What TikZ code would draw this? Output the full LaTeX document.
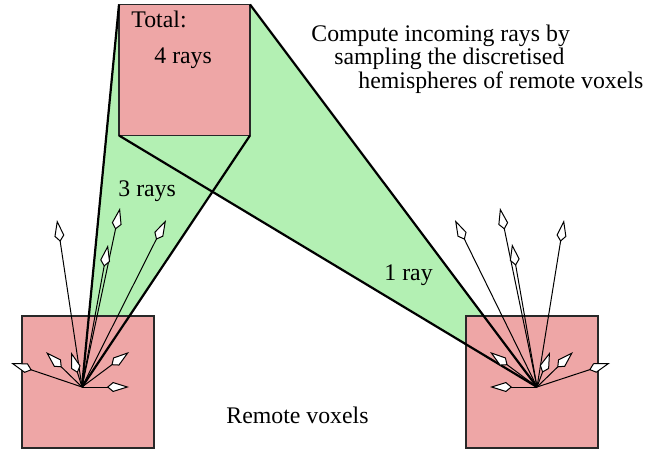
\documentclass[tikz,border=0pt]{standalone}
\usepackage{fontspec}
\setmainfont{Liberation Serif}
\usetikzlibrary{arrows.meta}
\definecolor{voxpink}{RGB}{238,166,166}
\definecolor{conegreen}{RGB}{179,240,179}
\definecolor{boxedge}{RGB}{40,40,40}
\begin{document}
\begin{tikzpicture}[x={(0.5pt,0)}, y={(0,-0.5pt)},
  voxel/.style={draw=boxedge, line width=0.7pt, fill=voxpink, inner sep=0pt, outer sep=0pt},
  coneline/.style={draw=black, line width=1.1pt},
  rayarrow/.style={draw=black, line width=0.5pt,
    -{Kite[length=11pt, width=5pt, inset=3pt, fill=white]}},
  lbl/.style={anchor=base west, inner sep=0pt, font=\fontsize{11.9}{14}\selectfont}]
\useasboundingbox (0,0) rectangle (646,450);
% sources
\coordinate (srcL) at (82,387);
\coordinate (srcR) at (537,387);
% top box (for anchors)
\path (184.5,70) node[minimum width=65.5pt, minimum height=65.5pt, inner sep=0pt, outer sep=0pt] (top) {};
% green cones
\fill[conegreen] (top.north west) -- (srcL) -- (top.south east) -- cycle;
\fill[conegreen] (top.north east) -- (srcR) -- (top.south west) -- cycle;
% boxes
\node[voxel, minimum width=65.5pt, minimum height=65.5pt] (topbox) at (top) {};
\node[voxel, minimum width=66pt, minimum height=66pt] (voxL) at (88,382) {};
\node[voxel, minimum width=66pt, minimum height=66pt] (voxR) at (532,382) {};
% cone edges
\draw[coneline] (top.north west) -- (srcL);
\draw[coneline] (top.south east) -- (srcL);
\draw[coneline] (top.north east) -- (srcR);
\draw[coneline] (top.south west) -- (srcR);
% rays of left voxel
\foreach \n/\dx/\dy in {a/-25/-167, b/38/-179, c/84/-167, d/26/-142, e/-71/-24, f/-36/-35, g/-11/-35, h/47/-35, i/47/0}{
  \path (srcL) ++(\dx,\dy) coordinate (L\n);
  \draw[rayarrow] (srcL) -- (L\n);
}
% rays of right voxel
\foreach \n/\dx/\dy in {a/-82/-167, b/-37/-179, c/-25/-143, d/27/-167, e/-47/-35, f/13/-35, g/36/-35, h/73/-24, i/-47/0}{
  \path (srcR) ++(\dx,\dy) coordinate (R\n);
  \draw[rayarrow] (srcR) -- (R\n);
}
% labels
\node[lbl] (ttotal) at (131,27) {Total:};
\node[lbl] (tfour) at (154,63) {4 rays};
\node[lbl] (tthree) at (118,196) {3 rays};
\node[lbl] (tone) at (384,280) {1 ray};
\node[lbl] (tremote) at (226,423) {Remote voxels};
\node[lbl] (tl1) at (311,41) {Compute incoming rays by};
\node[lbl] (tl2) at (334,64.5) {sampling the discretised};
\node[lbl] (tl3) at (358,88) {hemispheres of remote voxels};
\end{tikzpicture}
\end{document}
